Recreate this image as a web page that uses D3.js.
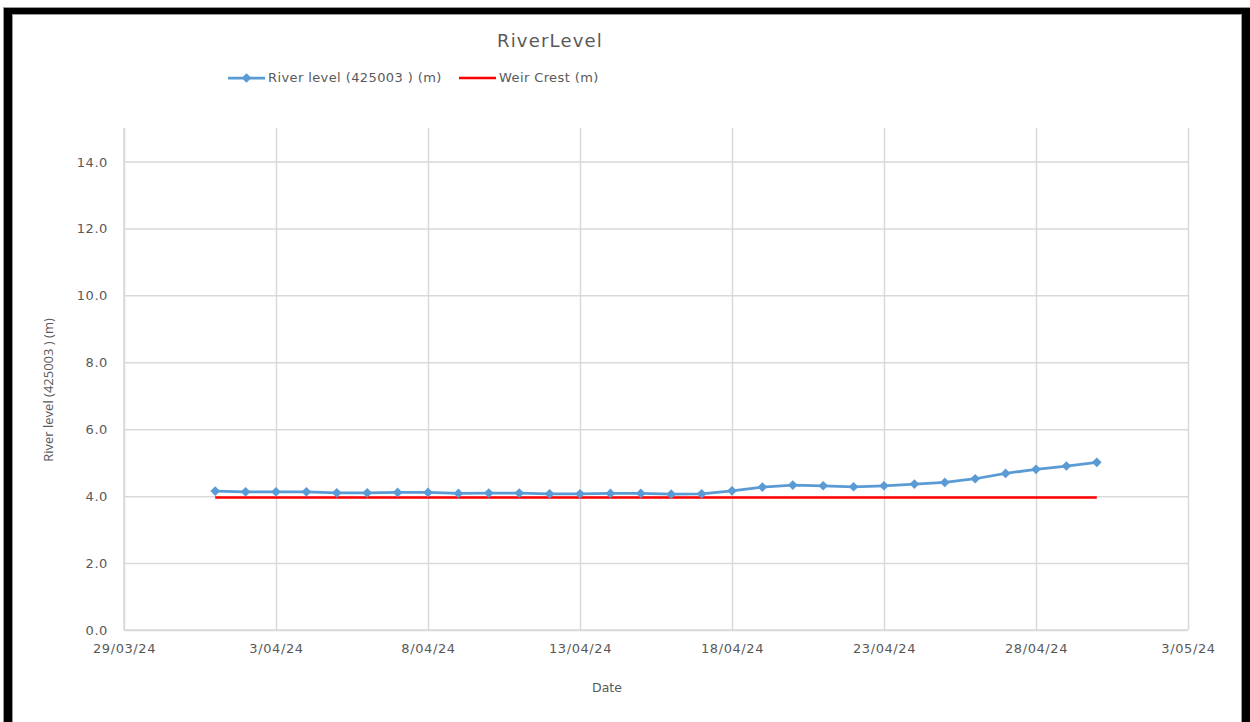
<!DOCTYPE html>
<html>
<head>
<meta charset="utf-8">
<script src="https://cdn.jsdelivr.net/npm/d3@7"></script>
<style>
  html, body { margin: 0; padding: 0; background: #fff; }
  svg { display: block; }
  text { fill: #595959; }
</style>
</head>
<body>
<svg id="chart" width="1250" height="722"></svg>
<script>
// Daily readings, 1 to 30 April 2024
const dates = [
  "2024-04-01","2024-04-02","2024-04-03","2024-04-04","2024-04-05",
  "2024-04-06","2024-04-07","2024-04-08","2024-04-09","2024-04-10",
  "2024-04-11","2024-04-12","2024-04-13","2024-04-14","2024-04-15",
  "2024-04-16","2024-04-17","2024-04-18","2024-04-19","2024-04-20",
  "2024-04-21","2024-04-22","2024-04-23","2024-04-24","2024-04-25",
  "2024-04-26","2024-04-27","2024-04-28","2024-04-29","2024-04-30"
];
const riverLevel = [
  4.15, 4.13, 4.13, 4.13, 4.10, 4.10, 4.11, 4.11, 4.08, 4.09,
  4.09, 4.07, 4.07, 4.08, 4.08, 4.06, 4.07, 4.16, 4.27, 4.33,
  4.31, 4.28, 4.31, 4.36, 4.41, 4.52, 4.68, 4.80, 4.90, 5.01
];
const weirCrest = [
  3.96, 3.96, 3.96, 3.96, 3.96, 3.96, 3.96, 3.96, 3.96, 3.96,
  3.96, 3.96, 3.96, 3.96, 3.96, 3.96, 3.96, 3.96, 3.96, 3.96,
  3.96, 3.96, 3.96, 3.96, 3.96, 3.96, 3.96, 3.96, 3.96, 3.96
];
const xTickDates = ["2024-03-29","2024-04-03","2024-04-08","2024-04-13","2024-04-18","2024-04-23","2024-04-28","2024-05-03"];
const yTicks = [0, 2, 4, 6, 8, 10, 12, 14];
const yMax = 15;
const seriesNames = ["River level (425003 ) (m)", "Weir Crest (m)"];
const chartTitle = "RiverLevel";
const xTitle = "Date";
const yTitle = "River level (425003 ) (m)";

const parse = d3.utcParse("%Y-%m-%d");
const fmtDate = d => `${d.getUTCDate()}/${d3.utcFormat("%m/%y")(d)}`;

const svg = d3.select("#chart");
const W = 1250, H = 722;
const plot = { left: 124, right: 1188, top: 128, bottom: 630 };

const x = d3.scaleUtc()
  .domain([parse(xTickDates[0]), parse(xTickDates[xTickDates.length - 1])])
  .range([plot.left, plot.right]);
const y = d3.scaleLinear().domain([0, yMax]).range([plot.bottom, plot.top]);

const blue = "#5b9bd5", red = "#ff0000", grid = "#d9d9d9";
const font = "'DejaVu Sans', sans-serif";

// frame
svg.append("rect").attr("width", W).attr("height", H).attr("fill", "#fff");
svg.append("rect").attr("x", 3).attr("y", 7).attr("width", W - 3).attr("height", 8).attr("fill", "#9a9a9a");
svg.append("rect").attr("x", 3).attr("y", 7).attr("width", 10).attr("height", H - 7).attr("fill", "#9a9a9a");
svg.append("rect").attr("x", 1241).attr("y", 7).attr("width", 9).attr("height", H - 7).attr("fill", "#9a9a9a");
svg.append("rect").attr("x", 4).attr("y", 8).attr("width", W - 4).attr("height", 6).attr("fill", "#000");
svg.append("rect").attr("x", 4).attr("y", 8).attr("width", 8).attr("height", H - 8).attr("fill", "#000");
svg.append("rect").attr("x", 1242).attr("y", 8).attr("width", 8).attr("height", H - 8).attr("fill", "#000");

// title
svg.append("text").attr("x", 550).attr("y", 47).attr("text-anchor", "middle")
  .style("font-family", font).style("font-size", "18px").style("letter-spacing", "1.2px")
  .text(chartTitle);

// horizontal gridlines + y axis
const yAxis = d3.axisLeft(y).tickValues(yTicks).tickFormat(d3.format(".1f"))
  .tickSize(-(plot.right - plot.left)).tickPadding(16);
const gy = svg.append("g").attr("transform", `translate(${plot.left},0)`).call(yAxis);
gy.select(".domain").attr("stroke", grid).attr("stroke-width", 1.5)
  .attr("d", `M0,${plot.top}V${plot.bottom}`);
gy.selectAll(".tick line").attr("stroke", grid).attr("stroke-width", 1.5);
gy.selectAll(".tick text").style("font-family", font).style("font-size", "13px")
  .style("letter-spacing", "0.6px").attr("fill", "#595959").attr("dy", "0.35em");

// vertical gridlines + x axis
const xAxis = d3.axisBottom(x).tickValues(xTickDates.map(parse)).tickFormat(fmtDate)
  .tickSize(-(plot.bottom - plot.top)).tickPadding(14);
const gx = svg.append("g").attr("transform", `translate(0,${plot.bottom})`).call(xAxis);
gx.select(".domain").attr("stroke", grid).attr("stroke-width", 1.5)
  .attr("d", `M${plot.left},0H${plot.right}`);
gx.selectAll(".tick line").attr("stroke", grid).attr("stroke-width", 1.5);
gx.selectAll(".tick text").style("font-family", font).style("font-size", "13px")
  .style("letter-spacing", "0.6px").attr("fill", "#595959");

// axis titles
svg.append("text").attr("x", 607).attr("y", 692).attr("text-anchor", "middle")
  .style("font-family", font).style("font-size", "12.5px").text(xTitle);
svg.append("text").attr("transform", `translate(53,390) rotate(-90)`).attr("text-anchor", "middle")
  .style("font-family", "'Open Sans', sans-serif").style("font-size", "13px").text(yTitle);

// series
const river = dates.map((d, i) => ({ date: parse(d), value: riverLevel[i] }));
const weir = dates.map((d, i) => ({ date: parse(d), value: weirCrest[i] }));
const line = d3.line().x(d => x(d.date)).y(d => y(d.value));

svg.append("path").datum(weir).attr("d", line)
  .attr("fill", "none").attr("stroke", red).attr("stroke-width", 2.5);
svg.append("path").datum(river).attr("d", line)
  .attr("fill", "none").attr("stroke", blue).attr("stroke-width", 2.75).attr("stroke-linejoin", "round");

const diamond = d3.symbol().type(d3.symbolDiamond2).size(60);
svg.append("g").selectAll("path").data(river).join("path")
  .attr("transform", d => `translate(${x(d.date)},${y(d.value)})`)
  .attr("d", diamond).attr("fill", blue);

// legend
const lg = svg.append("g");
lg.append("line").attr("x1", 228).attr("x2", 265).attr("y1", 78).attr("y2", 78)
  .attr("stroke", blue).attr("stroke-width", 2.75);
lg.append("path").attr("transform", "translate(246.5,78)").attr("d", diamond).attr("fill", blue);
lg.append("text").attr("x", 268).attr("y", 82).style("font-family", font)
  .style("font-size", "13px").style("letter-spacing", "0.4px").text(seriesNames[0]);
lg.append("line").attr("x1", 459).attr("x2", 496).attr("y1", 78).attr("y2", 78)
  .attr("stroke", red).attr("stroke-width", 2.5);
lg.append("text").attr("x", 499).attr("y", 82).style("font-family", font)
  .style("font-size", "13px").style("letter-spacing", "0.4px").text(seriesNames[1]);
</script>
</body>
</html>
